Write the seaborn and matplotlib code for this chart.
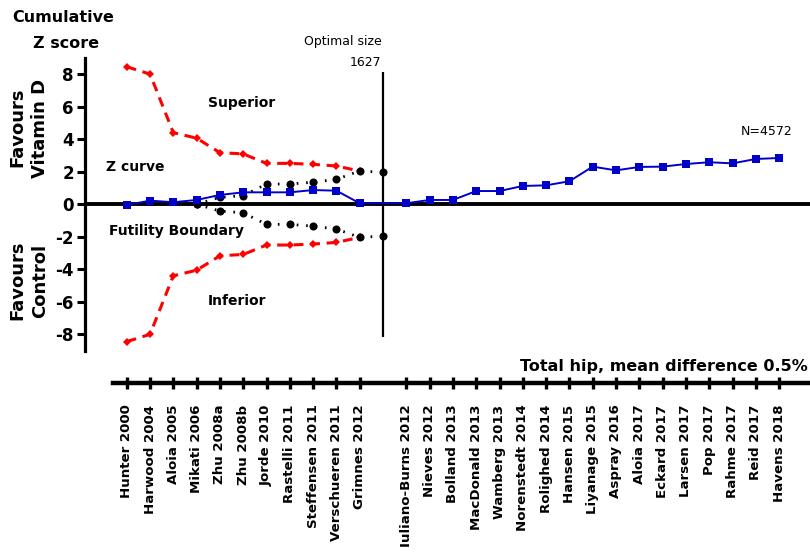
import matplotlib
matplotlib.use("Agg")
import matplotlib.pyplot as plt
import seaborn as sns
import pandas as pd
import numpy as np

# ---------------- data ----------------
studies = ["Hunter 2000", "Harwood 2004", "Aloia 2005", "Mikati 2006", "Zhu 2008a",
           "Zhu 2008b", "Jorde 2010", "Rastelli 2011", "Steffensen 2011",
           "Verschueren 2011", "Grimnes 2012",
           "Iuliano-Burns 2012", "Nieves 2012", "Bolland 2013", "MacDonald 2013",
           "Wamberg 2013", "Norenstedt 2014", "Rolighed 2014", "Hansen 2015",
           "Liyanage 2015", "Aspray 2016", "Aloia 2017", "Eckard 2017",
           "Larsen 2017", "Pop 2017", "Rahme 2017", "Reid 2017", "Havens 2018"]
# slot positions: one empty slot (optimal information size) after Grimnes 2012
study_pos = list(range(0, 11)) + list(range(12, 29))
optimal_pos = 11

z_curve = [-0.05, 0.22, 0.12, 0.26, 0.57, 0.73, 0.73, 0.73, 0.87, 0.83, 0.06,
           0.06, 0.26, 0.26, 0.81, 0.81, 1.12, 1.16, 1.41, 2.31, 2.08, 2.29,
           2.31, 2.47, 2.58, 2.51, 2.78, 2.84]

# monitoring boundary (symmetric), Hunter 2000 .. Grimnes 2012
boundary_pos = list(range(0, 11))
boundary = [8.45, 8.0, 4.40, 4.06, 3.17, 3.09, 2.51, 2.51, 2.45, 2.35, 2.04]

# futility boundary (symmetric), Mikati 2006 .. optimal size
futility_pos = [3, 4, 5, 6, 7, 8, 9, 10, 11]
futility = [0.0, 0.42, 0.53, 1.24, 1.24, 1.35, 1.53, 2.04, 1.96]

optimal_size = "1627"
total_n = "N=4572"

# ---------------- figure ----------------
sns.set_theme(style="white")
plt.rcParams['font.family'] = ['DejaVu Sans']
plt.rcParams['text.color'] = 'black'
plt.rcParams['xtick.color'] = 'black'
plt.rcParams['ytick.color'] = 'black'
plt.rcParams['axes.labelcolor'] = 'black'

W, H = 810, 552
fig = plt.figure(figsize=(W / 100, H / 100), dpi=100)

def fx(px):
    return px / W

def fy(py):
    return 1 - py / H

x0_px, step_px = 126.7, 23.3
left_px, right_px = 85, 810
xmin = (left_px - x0_px) / step_px
xmax = (right_px - x0_px) / step_px
ytop_px, ybot_px = 57.8, 350.6

ax = fig.add_axes([fx(left_px), fy(ybot_px), (right_px - left_px) / W,
                   (ybot_px - ytop_px) / H])
ax.set_facecolor("none")

df_z = pd.DataFrame({"x": study_pos, "z": z_curve})
df_up = pd.DataFrame({"x": boundary_pos, "z": boundary})
df_lo = pd.DataFrame({"x": boundary_pos, "z": [-v for v in boundary]})
df_fu = pd.DataFrame({"x": futility_pos, "z": futility})
df_fl = pd.DataFrame({"x": futility_pos, "z": [-v for v in futility]})

ax.axhline(0, color="black", lw=2.8, zorder=1)

for d in (df_up, df_lo):
    sns.lineplot(data=d, x="x", y="z", ax=ax, color="#ff0000", lw=2.2,
                 linestyle=(0, (3.2, 2.2)), marker="D", markersize=4.2,
                 markeredgewidth=0, sort=False, estimator=None, zorder=3)
for d in (df_fu, df_fl):
    sns.lineplot(data=d, x="x", y="z", ax=ax, color="black", lw=2.0,
                 linestyle=(0, (0.6, 2.8)), marker="o", markersize=5.8,
                 markeredgewidth=0, sort=False, estimator=None, zorder=4)
sns.lineplot(data=df_z, x="x", y="z", ax=ax, color="#0000c8", lw=1.4,
             marker="s", markersize=6.2, markeredgewidth=0, sort=False,
             estimator=None, zorder=5)

ax.vlines(optimal_pos, -8.15, 8.15, color="black", lw=1.6, zorder=2)

ax.set_xlim(xmin, xmax)
ax.set_ylim(-9, 9)
ax.set_yticks(np.arange(-8, 9, 2))
ax.set_yticklabels([str(v) for v in range(-8, 9, 2)], fontsize=12,
                   fontweight="bold", color="black")
ax.tick_params(axis="y", direction="out", length=6, width=2.2, color="black",
               labelcolor="black", pad=2, left=True)
ax.set_xticks([])
ax.set_xlabel("")
ax.set_ylabel("")
for s in ("top", "right", "bottom"):
    ax.spines[s].set_visible(False)
ax.spines["left"].set_linewidth(2.3)
ax.spines["left"].set_color("black")

# ---------------- bottom study axis ----------------
axb_px = 383
ax2 = fig.add_axes([fx(left_px), fy(axb_px), (right_px - left_px) / W, 0.0005])
ax2.set_facecolor("none")
ax2.set_xlim(xmin, xmax)
ax2.set_yticks([])
for s in ("top", "right", "left"):
    ax2.spines[s].set_visible(False)
ax2.spines["bottom"].set_linewidth(3.2)
ax2.spines["bottom"].set_color("black")
ax2.spines["bottom"].set_bounds((113 - x0_px) / step_px, xmax)
ax2.set_xticks(study_pos)
ax2.set_xticklabels(studies, rotation=90, fontsize=9.6, fontweight="bold",
                    va="top", ha="center", color="black")
ax2.tick_params(axis="x", direction="inout", length=9, width=2.4,
                color="black", labelcolor="black", pad=11, bottom=True)

# ---------------- texts ----------------
bold = dict(fontweight="bold", color="black")
fig.text(fx(12), fy(18), "Cumulative", fontsize=11.5, ha="left", va="center", **bold)
fig.text(fx(33), fy(43), "Z score", fontsize=11.5, ha="left", va="center", **bold)
fig.text(fx(17), fy(127), "Favours", fontsize=13, rotation=90, ha="center", va="center", **bold)
fig.text(fx(40), fy(128), "Vitamin D", fontsize=13, rotation=90, ha="center", va="center", **bold)
fig.text(fx(17), fy(280), "Favours", fontsize=13, rotation=90, ha="center", va="center", **bold)
fig.text(fx(40), fy(281), "Control", fontsize=13, rotation=90, ha="center", va="center", **bold)

fig.text(fx(242), fy(103), "Superior", fontsize=10, ha="center", va="center", **bold)
fig.text(fx(135), fy(167), "Z curve", fontsize=10, ha="center", va="center", **bold)
fig.text(fx(176), fy(231), "Futility Boundary", fontsize=10, ha="center", va="center", **bold)
fig.text(fx(237), fy(301), "Inferior", fontsize=10, ha="center", va="center", **bold)

fig.text(fx(382), fy(41), "Optimal size", fontsize=9, ha="right", va="center", color="black")
fig.text(fx(381), fy(62), optimal_size, fontsize=9, ha="right", va="center", color="black")
fig.text(fx(793), fy(131), total_n, fontsize=9, ha="right", va="center", color="black")
fig.text(fx(808), fy(366), "Total hip, mean difference 0.5%", fontsize=11.5,
         ha="right", va="center", **bold)

fig.savefig("out.png", dpi=100, facecolor="white")
